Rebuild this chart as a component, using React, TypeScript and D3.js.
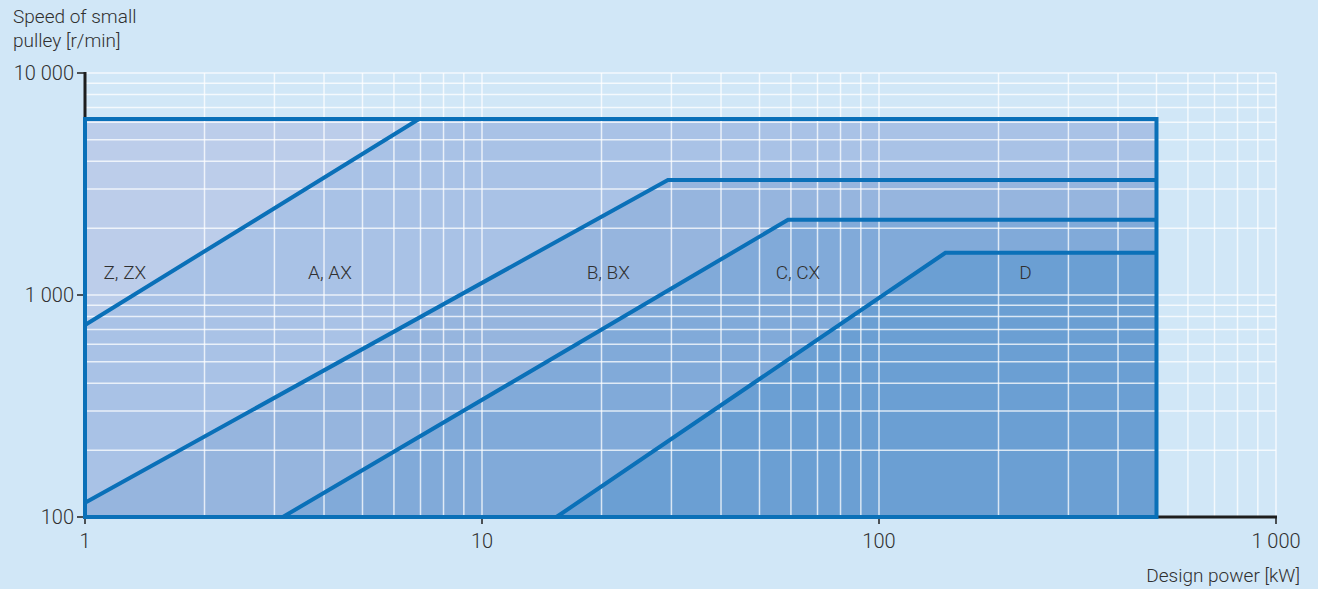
import React from "react";
import * as d3 from "d3";

const W = 1318;
const H = 589;

// Data (kW, r/min)
const xMin = 1, xMax = 1000, yMin = 100, yMax = 10000;
const powerLimit = 500;
const speedLimit = 6200;

// Boundary lines: each starts at [x0,y0] and rises to [x1,y1], then horizontal to powerLimit
const zLine: [number, number][] = [[1, 733], [6.94, 6200]];
const aLine: [number, number][] = [[1, 116], [29.4, 3300]];
const bLine: [number, number][] = [[3.15, 100], [59, 2180]];
const cLine: [number, number][] = [[15.4, 100], [147, 1550]];

const sections = ["Z, ZX", "A, AX", "B, BX", "C, CX", "D"];
const sectionLabelX = [1.26, 4.14, 20.8, 62.5, 234];
const sectionLabelY = 1180;
const fills = ["#bccdea", "#a9c2e6", "#96b5de", "#81aad9", "#6b9fd3"];

const xTicks = [1, 10, 100, 1000];
const xTickLabels = ["1", "10", "100", "1 000"];
const yTicks = [100, 1000, 10000];
const yTickLabels = ["100", "1 000", "10 000"];

const gridX: number[] = [];
const gridY: number[] = [];
for (let d = 1; d < 1000; d *= 10) for (let k = 1; k <= 9; k++) gridX.push(d * k);
gridX.push(1000);
for (let d = 100; d < 10000; d *= 10) for (let k = 1; k <= 9; k++) gridY.push(d * k);
gridY.push(10000);

export default function App() {
  const left = 85, right = 1276, top = 73, bottom = 517;
  const x = d3.scaleLog().domain([xMin, xMax]).range([left, right]);
  const y = d3.scaleLog().domain([yMin, yMax]).range([bottom, top]);
  const line = d3.line<[number, number]>().x((d) => x(d[0])).y((d) => y(d[1]));

  const areaPts = (ln: [number, number][]): [number, number][] => {
    const pts: [number, number][] = [];
    if (ln[0][1] > yMin) pts.push([ln[0][0], yMin]);
    pts.push(ln[0], ln[1], [powerLimit, ln[1][1]], [powerLimit, yMin]);
    return pts;
  };
  const boundaryPts = (ln: [number, number][]): [number, number][] => [ln[0], ln[1], [powerLimit, ln[1][1]]];

  const lines = [zLine, aLine, bLine, cLine];
  const blue = "#0a70b8";
  const textColor = "#303030";
  const font = "Roboto, 'Open Sans', sans-serif";

  return (
    <svg width={W} height={H} style={{ position: "absolute", left: 0, top: 0, background: "#d1e7f7" }} fontFamily={font} fontWeight={300}>
      <rect x={0} y={0} width={W} height={H} fill="#d1e7f7" />
      {/* base fill */}
      <rect x={x(xMin)} y={y(speedLimit)} width={x(powerLimit) - x(xMin)} height={y(yMin) - y(speedLimit)} fill={fills[0]} />
      {lines.map((ln, i) => (
        <path key={"a" + i} d={line(areaPts(ln)) + "Z"} fill={fills[i + 1]} />
      ))}
      {/* grid */}
      <g stroke="#ffffff" strokeOpacity={0.75} strokeWidth={1.5}>
        {gridX.map((v) => (
          <line key={"gx" + v} x1={x(v)} x2={x(v)} y1={y(yMax)} y2={y(yMin)} />
        ))}
        {gridY.map((v) => (
          <line key={"gy" + v} x1={x(xMin)} x2={x(xMax)} y1={y(v)} y2={y(v)} />
        ))}
      </g>
      {/* axes (black) */}
      <g stroke="#1e1e1e" fill="none">
        <line x1={x(xMin)} x2={x(xMin)} y1={y(yMax) - 1} y2={y(yMin)} strokeWidth={3} />
        <line x1={x(xMin)} x2={x(xMax) + 1} y1={y(yMin)} y2={y(yMin)} strokeWidth={3} />
        {yTicks.map((v) => (
          <line key={"yt" + v} x1={x(xMin) - 8} x2={x(xMin)} y1={y(v)} y2={y(v)} strokeWidth={1.5} />
        ))}
        {xTicks.map((v) => (
          <line key={"xt" + v} x1={x(v)} x2={x(v)} y1={y(yMin)} y2={y(yMin) + 7} strokeWidth={1.5} />
        ))}
      </g>
      {/* blue boundaries */}
      <g stroke={blue} strokeWidth={4} fill="none" strokeLinejoin="miter">
        <path
          d={line([[xMin, yMin], [xMin, speedLimit], [powerLimit, speedLimit], [powerLimit, yMin], [xMin, yMin]]) + "Z"}
        />
        {lines.map((ln, i) => (
          <path key={"l" + i} d={line(boundaryPts(ln)) || ""} />
        ))}
      </g>
      {/* section labels */}
      <g fill={textColor} fontSize={19} textAnchor="middle">
        {sections.map((s, i) => (
          <text key={s} x={x(sectionLabelX[i])} y={y(sectionLabelY)}>{s}</text>
        ))}
      </g>
      {/* tick labels */}
      <g fill={textColor} fontSize={20}>
        {xTicks.map((v, i) => (
          <text key={"xl" + v} x={x(v)} y={y(yMin) + 31} textAnchor="middle">{xTickLabels[i]}</text>
        ))}
        {yTicks.map((v, i) => (
          <text key={"yl" + v} x={x(xMin) - 11} y={y(v) + 7} textAnchor="end">{yTickLabels[i]}</text>
        ))}
      </g>
      <g fill={textColor} fontSize={19}>
        <text x={13} y={23}>Speed of small</text>
        <text x={13} y={47}>pulley [r/min]</text>
        <text x={1300} y={582} textAnchor="end">Design power [kW]</text>
      </g>
    </svg>
  );
}
